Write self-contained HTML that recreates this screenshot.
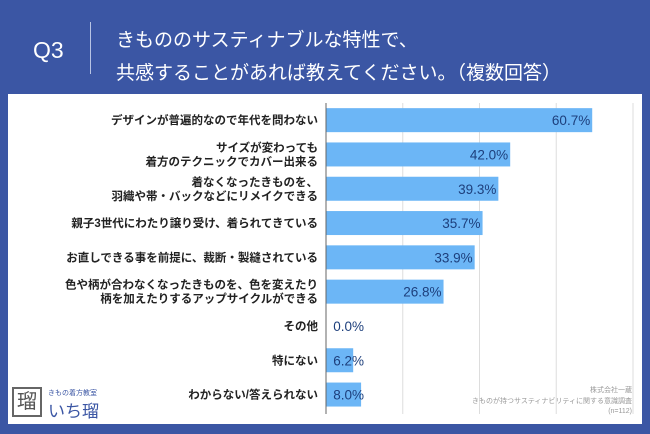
<!DOCTYPE html>
<html><head><meta charset="utf-8"><style>
body{margin:0;width:650px;height:434px;background:#3b56a4;font-family:"Liberation Sans","Noto Sans CJK JP",sans-serif;overflow:hidden;position:relative}
.t{position:absolute;color:#fff}
</style></head><body>
<div class="t" style="left:33px;top:37px;font-size:23px">Q3</div>
<div style="position:absolute;left:90px;top:22px;width:1px;height:52px;background:#b8c4e4"></div>
<div class="t" style="left:116px;top:22px;font-size:19px;line-height:33px;font-family:'Noto Sans CJK JP',sans-serif">きもののサスティナブルな特性で、<br>共感することがあれば教えてください。（複数回答）</div>
<div style="position:absolute;left:8px;top:94px;width:634px;height:330px;background:#fff"></div>
<svg width="650" height="434" style="position:absolute;left:0;top:0"></svg>
<div style="position:absolute;left:12px;top:387px;width:30px;height:30px;border:2px solid #666;box-sizing:border-box;color:#555;font-size:20px;line-height:26px;text-align:center">瑠</div>
<div style="position:absolute;left:48px;top:388px;font-size:7px;color:#3b56a4">きもの着方教室</div>
<div style="position:absolute;left:48px;top:397px;font-size:17px;color:#3b56a4">いち瑠</div>
<div style="position:absolute;right:18px;top:386px;font-size:7px;line-height:10.5px;color:#999;text-align:right">株式会社一蔵<br>きものが持つサスティナビリティに関する意識調査<br>(n=112)</div>
<script>
const categories=["デザインが普遍的なので年代を問わない","サイズが変わっても\n着方のテクニックでカバー出来る","着なくなったきものを、\n羽織や帯・バックなどにリメイクできる","親子3世代にわたり譲り受け、着られてきている","お直しできる事を前提に、裁断・製縫されている","色や柄が合わなくなったきものを、色を変えたり\n柄を加えたりするアップサイクルができる","その他","特にない","わからない/答えられない"];
const values=[60.7,42.0,39.3,35.7,33.9,26.8,0.0,6.2,8.0];
const gridTicks=[17.5,35,52.5,70];
const svg=document.querySelector('svg'),NS='http://www.w3.org/2000/svg';
const x0=326,xMax=70,w=307,y0=103,step=34.3,bh=24;
const xs=v=>x0+v/xMax*w, yc=i=>y0+step*i+step/2;
function mk(t,a){const e=document.createElementNS(NS,t);for(const k in a)e.setAttribute(k,a[k]);svg.appendChild(e);return e}
gridTicks.forEach(g=>{const l=mk('line',{x1:xs(g),x2:xs(g),y1:y0,y2:414,stroke:'#ddd'});

});
categories.forEach((c,i)=>{
 const r=mk('rect',{x:x0,y:yc(i)-bh/2,width:xs(values[i])-x0,height:bh,fill:'#6cb6f6'});
 
 
 const lines=c.split('\n');
 lines.forEach((s,j)=>{const t=mk('text',{x:318,y:yc(i)+4+(j-(lines.length-1)/2)*14,'text-anchor':'end','font-size':11.5,'font-weight':'bold',fill:'#222'});t.textContent=s;
 
 });
 const vx=Math.max(xs(values[i])-2,x0+38);
 const v=mk('text',{x:vx,y:yc(i)+5,'text-anchor':'end','font-size':13.5,fill:'#1d3f7c'});v.textContent=values[i].toFixed(1)+'%';
 
 
});
const ax=mk('line',{x1:x0,x2:x0,y1:y0,y2:414,stroke:'#666'});


</script>
</body></html>
